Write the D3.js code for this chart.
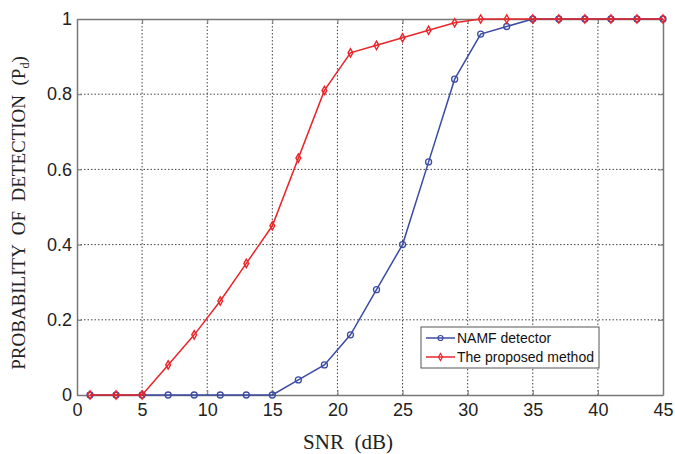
<!DOCTYPE html>
<html>
<head>
<meta charset="utf-8">
<script src="https://cdn.jsdelivr.net/npm/d3@7"></script>
<style>
  body { margin: 0; background: #fff; }
  svg { display: block; }
</style>
</head>
<body>
<svg id="chart" width="675" height="454"></svg>
<script>
// SNR values (dB)
var snr = [1, 3, 5, 7, 9, 11, 13, 15, 17, 19, 21, 23, 25, 27, 29, 31, 33, 35, 37, 39, 41, 43, 45];
// NAMF detector
var namf = [0, 0, 0, 0, 0, 0, 0, 0, 0.04, 0.08, 0.16, 0.28, 0.40, 0.62, 0.84, 0.96, 0.98, 1, 1, 1, 1, 1, 1];
// the proposed method
var proposed = [0, 0, 0, 0.08, 0.16, 0.25, 0.35, 0.45, 0.63, 0.81, 0.91, 0.93, 0.95, 0.97, 0.99, 1, 1, 1, 1, 1, 1, 1, 1];

var xTicks = [0, 5, 10, 15, 20, 25, 30, 35, 40, 45];
var yTicks = [0, 0.2, 0.4, 0.6, 0.8, 1];
var legendNames = ["NAMF detector", "The proposed method"];

var svg = d3.select("#chart");
var pLeft = 77, pRight = 663, pTop = 19, pBottom = 395;

var x = d3.scaleLinear().domain([0, 45]).range([pLeft, pRight]);
var y = d3.scaleLinear().domain([0, 1]).range([pBottom, pTop]);

// grid
var grid = svg.append("g");
grid.selectAll("line.vx")
  .data(xTicks.slice(1, -1))
  .enter().append("line")
  .attr("x1", d => x(d)).attr("x2", d => x(d))
  .attr("y1", pTop).attr("y2", pBottom)
  .attr("stroke", "#444").attr("stroke-width", 1)
  .attr("stroke-dasharray", "1.5,2");
grid.selectAll("line.hy")
  .data(yTicks.slice(1, -1))
  .enter().append("line")
  .attr("x1", pLeft).attr("x2", pRight)
  .attr("y1", d => y(d)).attr("y2", d => y(d))
  .attr("stroke", "#444").attr("stroke-width", 1)
  .attr("stroke-dasharray", "1.5,2");

// axes
svg.append("g")
  .attr("transform", "translate(0," + pBottom + ")")
  .call(d3.axisBottom(x).tickValues(xTicks).tickSizeInner(-5).tickSizeOuter(0).tickPadding(8));
svg.append("g")
  .attr("transform", "translate(" + pLeft + ",0)")
  .call(d3.axisLeft(y).tickValues(yTicks).tickSizeInner(-5).tickSizeOuter(0).tickPadding(5)
    .tickFormat(d => d === 0 ? "0" : d === 1 ? "1" : d3.format(".1f")(d)));
// mirrored ticks on top/right
svg.append("g")
  .attr("transform", "translate(0," + pTop + ")")
  .call(d3.axisTop(x).tickValues(xTicks).tickSizeInner(-5).tickSizeOuter(0).tickFormat(""));
svg.append("g")
  .attr("transform", "translate(" + pRight + ",0)")
  .call(d3.axisRight(y).tickValues(yTicks).tickSizeInner(-5).tickSizeOuter(0).tickFormat(""));

svg.selectAll(".domain").attr("stroke", "#777").attr("stroke-width", 1.5);
svg.selectAll(".tick line").attr("stroke", "#777");
svg.selectAll(".tick text")
  .attr("font-family", "Liberation Sans, Arial, sans-serif")
  .attr("font-size", 18).attr("fill", "#222");

// series
var line = d3.line().x(d => x(d[0])).y(d => y(d[1]));
var blueData = snr.map((s, i) => [s, namf[i]]);
var redData = snr.map((s, i) => [s, proposed[i]]);

svg.append("path").datum(blueData)
  .attr("d", line).attr("fill", "none")
  .attr("stroke", "#3b4ba3").attr("stroke-width", 1.5);
svg.selectAll("circle.namf").data(blueData).enter().append("circle")
  .attr("cx", d => x(d[0])).attr("cy", d => y(d[1])).attr("r", 3)
  .attr("fill", "none").attr("stroke", "#3b4ba3").attr("stroke-width", 1.3);

var diamond = d3.symbol().type(d3.symbolDiamond).size(20);
svg.append("path").datum(redData)
  .attr("d", line).attr("fill", "none")
  .attr("stroke", "#e8262a").attr("stroke-width", 1.5);
svg.selectAll("path.prop").data(redData).enter().append("path")
  .attr("d", diamond)
  .attr("transform", d => "translate(" + x(d[0]) + "," + y(d[1]) + ")")
  .attr("fill", "none").attr("stroke", "#e8262a").attr("stroke-width", 1.4);

// legend
var lg = svg.append("g");
lg.append("rect").attr("x", 421).attr("y", 327).attr("width", 178).attr("height", 41)
  .attr("fill", "#fff").attr("stroke", "#555").attr("stroke-width", 1);
var colors = ["#3b4ba3", "#e8262a"];
legendNames.forEach(function(name, i) {
  var ly = 338 + i * 19;
  lg.append("line").attr("x1", 426).attr("x2", 455).attr("y1", ly).attr("y2", ly)
    .attr("stroke", colors[i]).attr("stroke-width", 1.5);
  if (i === 0) {
    lg.append("circle").attr("cx", 440.5).attr("cy", ly).attr("r", 2.5)
      .attr("fill", "none").attr("stroke", colors[i]).attr("stroke-width", 1.2);
  } else {
    lg.append("path").attr("d", d3.symbol().type(d3.symbolDiamond).size(14))
      .attr("transform", "translate(440.5," + ly + ")")
      .attr("fill", "none").attr("stroke", colors[i]).attr("stroke-width", 1.2);
  }
  lg.append("text").attr("x", 457).attr("y", ly + 5)
    .attr("font-family", "Liberation Sans, Arial, sans-serif").attr("font-size", 14)
    .attr("fill", "#111").text(name);
});

// axis titles
svg.append("text")
  .attr("x", 348).attr("y", 449)
  .attr("text-anchor", "middle")
  .attr("font-family", "Liberation Serif, Times New Roman, serif").attr("font-size", 21)
  .attr("fill", "#222").attr("xml:space", "preserve").text("SNR  (dB)");

var yl = svg.append("text")
  .attr("transform", "translate(25,213) rotate(-90)")
  .attr("text-anchor", "middle")
  .attr("font-family", "Liberation Serif, Times New Roman, serif").attr("font-size", 19)
  .attr("fill", "#222").attr("xml:space", "preserve");
yl.append("tspan").text("PROBABILITY  OF  DETECTION  (P");
yl.append("tspan").attr("font-size", 12).attr("dy", 4).text("d");
yl.append("tspan").attr("dy", -4).text(")");
</script>
</body>
</html>
